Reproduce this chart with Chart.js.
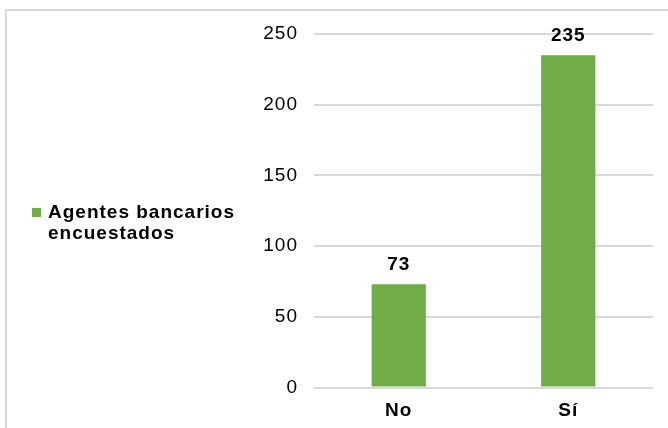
<!DOCTYPE html>
<html>
<head>
<meta charset="utf-8">
<script src="https://cdn.jsdelivr.net/npm/chart.js@4/dist/chart.umd.min.js"></script>
<style>
  html, body { margin: 0; padding: 0; background: #fff; overflow: hidden; }
  #frame {
    position: absolute; left: 5px; top: 9px; width: 720px; height: 480px;
    border: 2px solid #d9d9d9; box-sizing: border-box;
  }
  #wrap { position: absolute; left: 0; top: 0; width: 668px; height: 428px; }
</style>
</head>
<body>
<div id="frame"></div>
<div id="wrap"><canvas id="chart" width="668" height="428"></canvas></div>
<script>
const categories = ['No', 'Sí'];
const respondents = [73, 235];
const legendLines = ['Agentes bancarios', 'encuestados'];
const yTicks = [0, 50, 100, 150, 200, 250];

const GREEN = '#70ad47';
const FONT = '"Liberation Sans", Arial, sans-serif';
const INK = '#000';

// spacing the text a bit like the original office render
const spacingPlugin = {
  id: 'spacing',
  beforeDraw(chart) {
    chart.ctx.letterSpacing = '1px';
  },
};

const valueLabels = {
  id: 'valueLabels',
  afterDatasetsDraw(chart) {
    const ctx = chart.ctx;
    const meta = chart.getDatasetMeta(0);
    ctx.save();
    ctx.letterSpacing = '1px';
    ctx.font = 'bold 19px ' + FONT;
    ctx.fillStyle = INK;
    ctx.textAlign = 'center';
    ctx.textBaseline = 'alphabetic';
    meta.data.forEach((bar, i) => {
      ctx.fillText(String(chart.data.datasets[0].data[i]), bar.x, bar.y - 14);
    });
    ctx.restore();
  },
};

const sideLegend = {
  id: 'sideLegend',
  afterDraw(chart) {
    const ctx = chart.ctx;
    ctx.save();
    ctx.fillStyle = chart.data.datasets[0].backgroundColor;
    ctx.fillRect(32, 208, 9, 9);
    ctx.letterSpacing = '1px';
    ctx.font = 'bold 19px ' + FONT;
    ctx.fillStyle = INK;
    ctx.textAlign = 'left';
    ctx.textBaseline = 'alphabetic';
    legendLines.forEach((line, i) => {
      ctx.fillText(line, 48, 218 + i * 21);
    });
    ctx.restore();
  },
};

// eslint-disable-next-line no-undef
new Chart(document.getElementById('chart'), {
  type: 'bar',
  data: {
    labels: categories,
    datasets: [
      {
        label: legendLines.join(' '),
        data: respondents,
        backgroundColor: GREEN,
        categoryPercentage: 1,
        barPercentage: 0.32,
      },
    ],
  },
  options: {
    responsive: false,
    animation: false,
    layout: { padding: { left: 0, right: 15, top: 34, bottom: 0 } },
    plugins: {
      legend: { display: false },
      tooltip: { enabled: false },
    },
    scales: {
      x: {
        grid: { display: false },
        border: { display: false },
        ticks: {
          color: INK,
          padding: 4,
          font: { family: FONT, size: 19, weight: 'bold' },
        },
        afterFit(scale) { scale.height = 40.5; },
      },
      y: {
        min: 0,
        max: 250,
        afterBuildTicks(scale) { scale.ticks = yTicks.map((v) => ({ value: v })); },
        grid: { color: '#d9d9d9', lineWidth: 2, drawTicks: false },
        border: { display: false },
        ticks: {
          color: INK,
          padding: 16,
          font: { family: FONT, size: 19 },
        },
        afterFit(scale) { scale.width = 314; },
      },
    },
  },
  plugins: [spacingPlugin, valueLabels, sideLegend],
});
</script>
</body>
</html>
